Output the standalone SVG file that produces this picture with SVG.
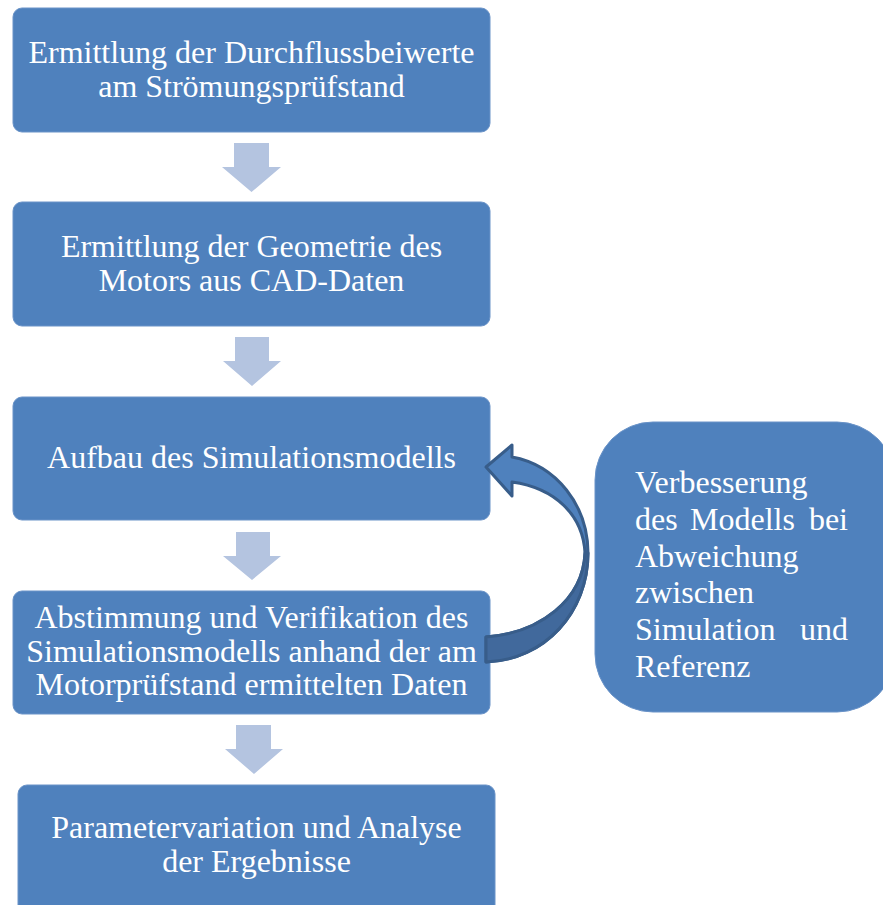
<svg xmlns="http://www.w3.org/2000/svg" width="883" height="905" viewBox="0 0 883 905">
<defs>
<style>
.box{fill:#4f81bd;stroke:#6a93c8;stroke-width:1}
.t{font-family:"Liberation Serif","Times New Roman",serif;font-size:32px;fill:#ffffff}
.c{text-anchor:middle}
.e{text-anchor:end}
.dn{fill:#b4c4e0}
</style>
</defs>
<rect width="883" height="905" fill="#ffffff"/>
<g id="n1">
<rect class="box" x="13" y="8" width="477" height="124" rx="9"/>
<text class="t c" x="251.5" y="63">Ermittlung der Durchflussbeiwerte</text>
<text class="t c" x="251.5" y="97">am Strömungsprüfstand</text>
</g>
<g id="n2">
<rect class="box" x="13" y="202" width="477" height="124" rx="9"/>
<text class="t c" x="251.5" y="257">Ermittlung der Geometrie des</text>
<text class="t c" x="251.5" y="291">Motors aus CAD-Daten</text>
</g>
<g id="n3">
<rect class="box" x="13" y="397" width="477" height="123" rx="9"/>
<text class="t c" x="251.5" y="468">Aufbau des Simulationsmodells</text>
</g>
<g id="n4">
<rect class="box" x="13" y="591" width="477" height="123" rx="9"/>
<text class="t c" x="251.5" y="628">Abstimmung und Verifikation des</text>
<text class="t c" x="251.5" y="662">Simulationsmodells anhand der am</text>
<text class="t c" x="251.5" y="695">Motorprüfstand ermittelten Daten</text>
</g>
<g id="n5">
<rect class="box" x="18" y="785" width="477" height="135" rx="9"/>
<text class="t c" x="256.5" y="838">Parametervariation und Analyse</text>
<text class="t c" x="256.5" y="872">der Ergebnisse</text>
</g>
<g id="n6">
<rect class="box" x="595" y="422" width="300" height="290" rx="58"/>
<text class="t" x="635" y="493">Verbesserung</text>
<text class="t" x="635" y="530">des</text>
<text class="t" x="690" y="530">Modells</text>
<text class="t e" x="848" y="530">bei</text>
<text class="t" x="635" y="567">Abweichung</text>
<text class="t" x="635" y="603">zwischen</text>
<text class="t" x="635" y="640">Simulation</text>
<text class="t e" x="848" y="640">und</text>
<text class="t" x="635" y="677">Referenz</text>
</g>
<g id="connectors">
<polygon class="dn" points="234,143 269,143 269,167 281,167 251.5,192 222,167 234,167"/>
<polygon class="dn" points="235,337 269,337 269,361 281,361 252,386 223,361 235,361"/>
<polygon class="dn" points="236,532 270,532 270,556 281,556 252,580 223,556 236,556"/>
<polygon class="dn" points="236,725 271,725 271,749 283,749 254,774 225,749 236,749"/>
<path d="M486,467 L512,445 L512,457 C556,465 588,505 588,553 C588,612 545,660 486,662 L486,637 C540,633 583,600 585,553 C583,515 555,488 512,482 L512,496 Z" fill="#4f81bd" stroke="#385d8a" stroke-width="3" stroke-linejoin="round"/>
<path d="M588,553 C588,612 545,660 486,662 L486,637 C540,633 583,600 585,553 Z" fill="#41699c" stroke="#385d8a" stroke-width="3" stroke-linejoin="round"/>
</g>
</svg>
